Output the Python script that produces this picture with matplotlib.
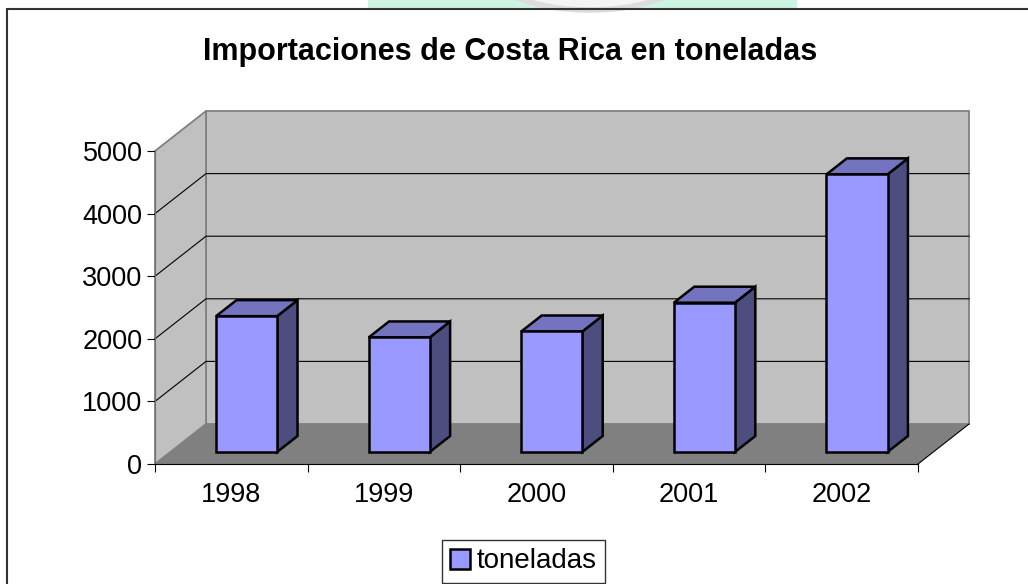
import matplotlib
matplotlib.use('Agg')
import matplotlib.pyplot as plt
from matplotlib.patches import Polygon, Rectangle, Patch, Ellipse

years = ['1998', '1999', '2000', '2001', '2002']
toneladas = [2170, 1830, 1925, 2385, 4435]
y_ticks = [0, 1000, 2000, 3000, 4000, 5000]

plt.rcParams['font.family'] = ['Liberation Sans', 'DejaVu Sans']

W, H = 1028, 584
fig = plt.figure(figsize=(W / 100, H / 100), dpi=100)

# faint watermark peeking in above the chart area
fig.add_artist(Rectangle((368 / W, 1 - 9 / H), 429 / W, 9 / H, transform=fig.transFigure,
                         facecolor='#cdf3e3', edgecolor='none', zorder=0))
fig.add_artist(Ellipse((590 / W, 1 + 30 / H), 200 / W, 80 / H, transform=fig.transFigure,
                       facecolor='#f4f4f4', edgecolor='#dddddd', lw=4, zorder=0.5))

# front plane of the 3d box
ax = fig.add_axes([155 / W, 1 - 464 / H, 763 / W, 313 / H])
n = len(years)
top = y_ticks[-1]
ax.set_xlim(0, n)
ax.set_ylim(0, top)
ax.patch.set_visible(False)

# depth offset of the box, in data units
DX = 51 / 152.6
DY = 40 / 313 * top


def poly(pts, fc, ec, lw, z):
    ax.add_patch(Polygon(pts, closed=True, facecolor=fc, edgecolor=ec,
                         linewidth=lw, clip_on=False, zorder=z, joinstyle='miter'))


# walls
poly([(DX, DY), (n + DX, DY), (n + DX, top + DY), (DX, top + DY)], '#c0c0c0', '#808080', 1.3, 1)
poly([(0, 0), (DX, DY), (DX, top + DY), (0, top)], '#c0c0c0', '#808080', 1.3, 1)
for v in y_ticks[1:-1]:
    ax.plot([0, DX, n + DX], [v, v + DY, v + DY], color='black', lw=0.8, zorder=2, clip_on=False)

# floor
poly([(0, 0), (n, 0), (n + DX, DY), (DX, DY)], '#808080', 'none', 0, 3)
ax.plot([n, n + DX], [0, DY], color='black', lw=0.8, zorder=3, clip_on=False)

# bars
d0, d1 = 0.3, 0.7
for i, v in enumerate(toneladas):
    x0 = i + 0.3 + d0 * DX
    x1 = i + 0.7 + d0 * DX
    b = d0 * DY
    ox, oy = (d1 - d0) * DX, (d1 - d0) * DY
    poly([(x1, b), (x1 + ox, b + oy), (x1 + ox, b + v + oy), (x1, b + v)], '#4d4d80', 'black', 1.8, 5)
    poly([(x0, b + v), (x1, b + v), (x1 + ox, b + v + oy), (x0 + ox, b + v + oy)], '#7373bf', 'black', 1.8, 5)
    poly([(x0, b), (x1, b), (x1, b + v), (x0, b + v)], '#9999ff', 'black', 1.8, 6)

for s in ['top', 'right']:
    ax.spines[s].set_visible(False)
ax.spines['left'].set_color('#707070')
ax.spines['bottom'].set_color('black')
ax.spines['left'].set_zorder(4)
ax.spines['bottom'].set_zorder(4)

ax.set_yticks(y_ticks)
ax.set_yticklabels([str(t) for t in y_ticks])
ax.tick_params(axis='y', length=6, width=0.8, labelsize=19.5, pad=3)

ax.set_xticks(range(n + 1))
ax.set_xticklabels([])
ax.set_xticks([i + 0.5 for i in range(n)], minor=True)
ax.set_xticklabels(years, minor=True)
ax.tick_params(axis='x', which='major', length=6, width=0.8)
ax.tick_params(axis='x', which='minor', length=0, labelsize=19.5, pad=13)

fig.text(510 / W, 1 - 52 / H, 'Importaciones de Costa Rica en toneladas',
         ha='center', va='center', fontsize=22, fontweight='bold')

leg = fig.legend(handles=[Patch(facecolor='#9999ff', edgecolor='black', linewidth=1.8)],
                 labels=['toneladas'], loc='center', bbox_to_anchor=(523.5 / W, 1 - 561.5 / H),
                 frameon=True, fancybox=False, edgecolor='black', fontsize=20,
                 handlelength=0.7, handleheight=0.7, handletextpad=0.25, borderpad=0.3,
                 borderaxespad=0)
leg.get_frame().set_linewidth(1.0)

# chart area border
fig.add_artist(Rectangle((7 / W, -0.1), 1.2, 1 - 9 / H + 0.1, transform=fig.transFigure,
                         fill=False, edgecolor='#333333', lw=1.5))

fig.savefig('out.png', dpi=100)
